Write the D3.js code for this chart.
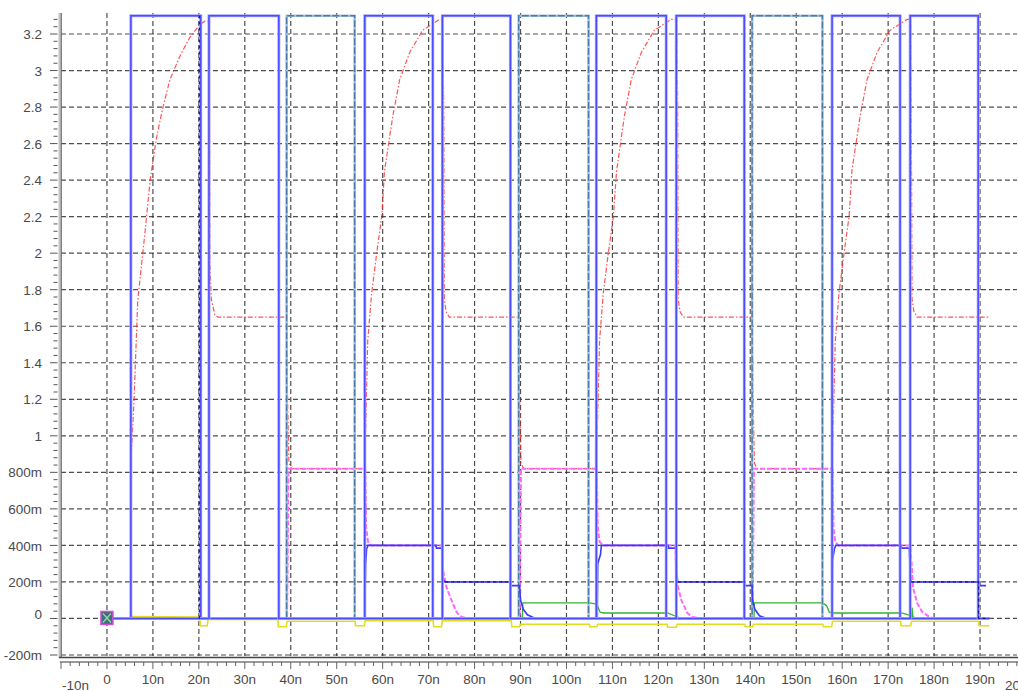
<!DOCTYPE html>
<html>
<head>
<meta charset="utf-8">
<script src="https://cdn.jsdelivr.net/npm/d3@7"></script>
<style>
  body { margin: 0; background: #fff; overflow: hidden; }
  text { font-family: "Liberation Sans", Arial, sans-serif; font-size: 13.5px; fill: #4a4a4a; }
</style>
</head>
<body>
<svg id="chart" width="1018" height="691"></svg>
<script>
// axis ticks / labels
const yTicks = [-0.2, 0, 0.2, 0.4, 0.6, 0.8, 1, 1.2, 1.4, 1.6, 1.8, 2, 2.2, 2.4, 2.6, 2.8, 3, 3.2]
const yLabels = ["-200m", "0", "200m", "400m", "600m", "800m", "1", "1.2", "1.4", "1.6", "1.8", "2", "2.2", "2.4", "2.6", "2.8", "3", "3.2"]
const xTicks = [-10, 0, 10, 20, 30, 40, 50, 60, 70, 80, 90, 100, 110, 120, 130, 140, 150, 160, 170, 180, 190, 200]
const xLabels = ["-10n", "0", "10n", "20n", "30n", "40n", "50n", "60n", "70n", "80n", "90n", "100n", "110n", "120n", "130n", "140n", "150n", "160n", "170n", "180n", "190n", "200n"]

// clock pulses [rise, fall] in ns, high level in V
const clockHigh = 3.3
const clockEnd = 192
const clockA = [[5.2, 20.4], [56.1, 70.9], [106.5, 121.7], [157.8, 172.6]]
const clockB = [[22.2, 37.4], [73.0, 87.8], [123.9, 138.7], [174.8, 189.6]]
const clockC = [[39.1, 53.9], [89.6, 104.8], [140.4, 155.7]]

// node voltages [t ns, V]
const v1 = [
  [0, 0], [5.2, 0], [5.3, 0.9], [5.9, 1.2], [6.7, 1.74], [8.3, 2.12], [9.4, 2.4], [10.7, 2.62], [12, 2.78], [13.7, 2.95],
  [15.9, 3.08], [18, 3.18], [20.2, 3.25], [21.3, 3.27], [22.1, 3.27],
  [22.3, 3.0], [22.4, 1.95], [22.7, 1.75], [23.5, 1.66], [24.2, 1.65], [39.1, 1.65], [39.3, 1.2], [39.6, 0.85], [40.2, 0.82], [56.1, 0.82],
  [56.75, 1.52], [57.6, 1.78], [58.7, 2.0], [59.8, 2.2], [60.4, 2.45], [62.2, 2.75], [63.7, 2.95], [65.9, 3.1], [68.7, 3.22], [72.4, 3.28], [73.0, 3.28],
  [73.3, 2.8], [73.4, 1.75], [73.8, 1.68], [74.5, 1.65], [89.6, 1.65], [89.8, 1.2], [90.1, 0.85], [90.7, 0.82], [106.5, 0.82],
  [107.2, 1.52], [108, 1.78], [109.1, 2.0], [110.2, 2.2], [110.9, 2.45], [112.6, 2.75], [114.1, 2.95], [116.3, 3.1], [119.1, 3.22], [122.8, 3.28], [124, 3.28],
  [124.2, 2.8], [124.3, 1.75], [124.7, 1.68], [125.4, 1.65], [140.4, 1.65], [140.6, 1.2], [140.9, 0.85], [141.5, 0.82], [157.8, 0.82],
  [158.5, 1.52], [159.3, 1.78], [160.4, 2.0], [161.5, 2.2], [162.1, 2.45], [163.9, 2.75], [165.4, 2.95], [167.6, 3.1], [170.4, 3.22], [174.1, 3.28], [174.9, 3.28],
  [175.1, 2.4], [175.2, 1.75], [175.6, 1.68], [176.3, 1.65], [192, 1.65]
]
const v2 = [
  [0, 0], [39.2, 0], [39.5, 0.82], [56.2, 0.82], [56.4, 0.5], [56.8, 0.42], [57.5, 0.4],
  [72.9, 0.4], [73.0, 0.28], [73.9, 0.17], [75.2, 0.085], [76.2, 0.03], [77.2, 0.008], [78.5, 0],
  [89.8, 0], [90.1, 0.82], [106.6, 0.82], [106.8, 0.5], [107.2, 0.42], [108, 0.4],
  [123.7, 0.4], [123.9, 0.21], [125, 0.1], [126.3, 0.03], [127.4, 0.008], [129, 0],
  [140.5, 0], [140.8, 0.82], [157.9, 0.82], [158.1, 0.5], [158.5, 0.42], [159.2, 0.4],
  [174.8, 0.4], [175.1, 0.3], [175.4, 0.17], [176.3, 0.085], [177.4, 0.036], [179, 0.008], [180, 0], [192, 0]
]
const v3 = [
  [0, 0], [56.1, 0], [56.2, 0.15], [56.3, 0.3], [56.5, 0.38], [56.8, 0.4], [71.6, 0.4], [71.7, 0.385], [72.9, 0.385],
  [73.0, 0.25], [73.2, 0.21], [73.6, 0.2], [87.9, 0.2], [88.0, 0.18], [89.8, 0.18], [90.0, 0.1], [90.6, 0.05], [91.5, 0.02], [93, 0.003], [94, 0],
  [106.7, 0], [106.8, 0.3], [107.4, 0.35], [107.6, 0.4], [122.1, 0.4], [122.2, 0.385], [123.9, 0.385],
  [124.0, 0.25], [124.2, 0.2], [138.7, 0.2], [138.8, 0.18], [140.4, 0.18], [140.5, 0.1], [141, 0.05], [142, 0.015], [143.5, 0],
  [157.8, 0], [157.9, 0.32], [158.3, 0.38], [158.6, 0.4], [172.8, 0.4], [172.9, 0.385], [174.6, 0.385],
  [174.8, 0.25], [175.0, 0.2], [189.7, 0.2], [189.75, 0.18], [191.3, 0.18]
]
const v3Navy = [
  [[20.1, 0], [20.1, 3.3]],
  [[73.6, 0.2], [87.9, 0.2]],
  [[124.2, 0.2], [138.7, 0.2]],
  [[175.0, 0.2], [189.7, 0.2], [189.7, 0], [192, 0]]
]
const v4 = [
  [0, 0], [90.4, 0], [90.5, 0.085], [105, 0.085], [106.3, 0.08], [106.8, 0.065], [107.3, 0.035], [108, 0.03],
  [122, 0.03], [123.5, 0.015], [124.6, 0.003], [126, 0],
  [140.8, 0], [140.9, 0.085], [155.8, 0.085], [156.6, 0.07], [157.2, 0.035], [158, 0.03],
  [172.9, 0.03], [174.6, 0.018], [175.1, 0.005], [175.2, 0.06], [175.4, 0.01], [176, 0], [192, 0]
]
const v5 = [
  [0, 0], [5.2, 0], [5.4, 0.01], [20.2, 0.008], [20.3, -0.04], [21.8, -0.04], [22, -0.005], [37.2, -0.005],
  [37.3, -0.045], [39, -0.045], [39.2, -0.015], [54, -0.015], [54.1, -0.04], [56, -0.04], [56.2, -0.012],
  [71, -0.012], [71.1, -0.045], [72.8, -0.045], [73, -0.012], [88, -0.012], [88.1, -0.045], [89.8, -0.045],
  [90, -0.032], [105, -0.032], [105.1, -0.045], [106.6, -0.045], [106.8, -0.032], [121.9, -0.032], [122, -0.048],
  [123.9, -0.048], [124.1, -0.032], [138.8, -0.032], [138.9, -0.045], [140.5, -0.045], [140.7, -0.032],
  [155.8, -0.032], [155.9, -0.045], [157.7, -0.045], [157.9, -0.015], [172.7, -0.015], [172.8, -0.04],
  [174.9, -0.04], [175.1, -0.015], [189.7, -0.015], [189.8, -0.04], [192, -0.04]
]

const plot = { left: 61, right: 1017, top: 13, bottom: 656 }
const x = d3.scaleLinear().domain([-10, 200]).range([61, 1026])
const y = d3.scaleLinear().domain([-0.2, 3.2]).range([655, 34])

const svg = d3.select("#chart")

svg.append("defs").append("clipPath").attr("id", "plotclip")
  .append("rect")
  .attr("x", plot.left).attr("y", plot.top)
  .attr("width", plot.right - plot.left).attr("height", plot.bottom - plot.top)

// grid
const grid = svg.append("g").attr("clip-path", "url(#plotclip)")
grid.selectAll("line.h")
  .data(yTicks)
  .enter().append("line")
  .attr("x1", plot.left).attr("x2", plot.right)
  .attr("y1", d => y(d)).attr("y2", d => y(d))
  .attr("stroke", "#303030").attr("stroke-width", 1.2)
  .attr("stroke-dasharray", "5,3").attr("opacity", 0.85)
grid.selectAll("line.v")
  .data(xTicks.filter(d => d > -10))
  .enter().append("line")
  .attr("x1", d => x(d)).attr("x2", d => x(d))
  .attr("y1", plot.top).attr("y2", plot.bottom)
  .attr("stroke", "#303030").attr("stroke-width", 1.2)
  .attr("stroke-dasharray", "5,3").attr("opacity", 0.85)

// left axis
svg.append("line").attr("x1", 59.5).attr("x2", 59.5).attr("y1", plot.top).attr("y2", 658)
  .attr("stroke", "#c4c4c4").attr("stroke-width", 2)
svg.append("line").attr("x1", 61.2).attr("x2", 61.2).attr("y1", plot.top).attr("y2", 658)
  .attr("stroke", "#6a6a6a").attr("stroke-width", 1.3)
const yMinor = d3.range(-5, 83).map(i => i * 0.04)
svg.append("g").selectAll("line")
  .data(yMinor)
  .enter().append("line")
  .attr("x1", d => Math.abs(Math.round(d / 0.04) % 5) === 0 ? 50 : 53.5).attr("x2", 57.5)
  .attr("y1", d => y(d)).attr("y2", d => y(d))
  .attr("stroke", "#555").attr("stroke-width", 1)
svg.append("g").selectAll("text")
  .data(yTicks)
  .enter().append("text")
  .attr("x", 42)
  .attr("y", (d, i) => y(d) - (yLabels[i] === "0" ? 5 : 0))
  .attr("dy", "0.38em")
  .attr("text-anchor", "end")
  .text((d, i) => yLabels[i])

// bottom axis
svg.append("line").attr("x1", 59).attr("x2", 1018).attr("y1", 657.5).attr("y2", 657.5)
  .attr("stroke", "#444").attr("stroke-width", 1.4)
svg.append("line").attr("x1", 60).attr("x2", 1018).attr("y1", 662).attr("y2", 662)
  .attr("stroke", "#9a9a9a").attr("stroke-width", 2)
const xMinor = d3.range(-5, 101).map(i => i * 2)
svg.append("g").selectAll("line")
  .data(xMinor)
  .enter().append("line")
  .attr("x1", d => x(d)).attr("x2", d => x(d))
  .attr("y1", 662).attr("y2", d => d % 10 === 0 ? 669 : 666)
  .attr("stroke", "#666").attr("stroke-width", 1)
// edge labels sit lower and are nudged inward, as in the original plot
svg.append("g").selectAll("text")
  .data(xTicks)
  .enter().append("text")
  .attr("x", (d, i) => i === 0 ? x(d) + 1 : (i === xTicks.length - 1 ? x(d) - 21 : x(d)))
  .attr("y", (d, i) => (i === 0 || i === xTicks.length - 1) ? 690 : 684)
  .attr("text-anchor", (d, i) => i === 0 || i === xTicks.length - 1 ? "start" : "middle")
  .text((d, i) => xLabels[i])

// traces
const line = d3.line().x(d => x(d[0])).y(d => y(d[1]))
const traces = svg.append("g").attr("clip-path", "url(#plotclip)")

function clockPoints(pulses) {
  const pts = [[0, 0]]
  pulses.forEach(p => {
    pts.push([p[0], 0], [p[0], clockHigh], [p[1], clockHigh], [p[1], 0])
  })
  pts.push([clockEnd, 0])
  return pts
}

traces.append("path").datum(v5).attr("d", line)
  .attr("fill", "none").attr("stroke", "#e4dc20").attr("stroke-width", 1.6)
traces.append("path").datum(v4).attr("d", line)
  .attr("fill", "none").attr("stroke", "#2fb52f").attr("stroke-width", 1.3)
traces.append("path").datum(v1).attr("d", line)
  .attr("fill", "none").attr("stroke", "#ff2a2a").attr("stroke-width", 1.2)
  .attr("stroke-dasharray", "5,2,1.5,2").attr("opacity", 0.8)
traces.append("path").datum(v2).attr("d", line)
  .attr("fill", "none").attr("stroke", "#ff66ff").attr("stroke-width", 2)
  .attr("stroke-dasharray", "5,2")

// dashed steel-blue clock
traces.append("path").datum(clockPoints(clockC)).attr("d", line)
  .attr("fill", "none").attr("stroke", "#a9c4de").attr("stroke-width", 2.6)
traces.append("path").datum(clockPoints(clockC)).attr("d", line)
  .attr("fill", "none").attr("stroke", "#4a7aa8").attr("stroke-width", 1.4)
  .attr("stroke-dasharray", "7,2")

traces.append("path").datum(v3).attr("d", line)
  .attr("fill", "none").attr("stroke", "#3a3aff").attr("stroke-width", 1.6)

;[clockA, clockB].forEach(c => {
  traces.append("path").datum(clockPoints(c)).attr("d", line)
    .attr("fill", "none").attr("stroke", "#a8a8ff").attr("stroke-width", 3)
  traces.append("path").datum(clockPoints(c)).attr("d", line)
    .attr("fill", "none").attr("stroke", "#4c4cff").attr("stroke-width", 1.5)
})

v3Navy.forEach(seg => {
  traces.append("path").datum(seg).attr("d", line)
    .attr("fill", "none").attr("stroke", "#14147a").attr("stroke-width", 1.2)
    .attr("stroke-dasharray", "3,3")
})

// start marker at origin
const mk = svg.append("g").attr("transform", `translate(${x(0)},${y(0)})`)
mk.append("rect").attr("x", -6).attr("y", -7).attr("width", 12).attr("height", 13)
  .attr("fill", "#3d6f80").attr("stroke", "#d84ad8").attr("stroke-width", 1.5)
mk.append("path").attr("d", "M-4,-5L4,4M4,-5L-4,4")
  .attr("stroke", "#9fd6a0").attr("stroke-width", 1.3)
</script>
</body>
</html>
